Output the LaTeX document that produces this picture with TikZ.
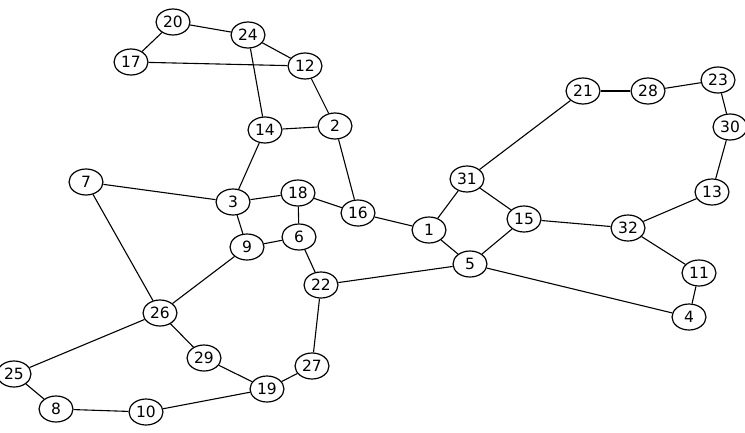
\documentclass[tikz,border=0pt]{standalone}
\usepackage{fontspec}
\setmainfont{DejaVu Sans}
\usetikzlibrary{shapes.geometric}
\begin{document}
\begin{tikzpicture}[x=1pt,y=-1pt,
  vtx/.style={draw,ellipse,line width=1.2pt,fill=white,inner sep=0pt,minimum width=34pt,minimum height=26pt,font=\fontsize{15.5}{15.5}\selectfont},
  edge/.style={line width=1.1pt}]
\useasboundingbox (0,0) rectangle (745,432);
\node[vtx] (n20) at (173,22) {20};
\node[vtx] (n24) at (248,35) {24};
\node[vtx] (n17) at (131,62) {17};
\node[vtx] (n12) at (305,66) {12};
\node[vtx] (n14) at (265,130) {14};
\node[vtx] (n2) at (335,126) {2};
\node[vtx] (n7) at (86,182) {7};
\node[vtx] (n3) at (233,202) {3};
\node[vtx] (n18) at (298,193) {18};
\node[vtx] (n16) at (358,213) {16};
\node[vtx] (n6) at (299,237) {6};
\node[vtx] (n9) at (247,247) {9};
\node[vtx] (n22) at (321,285) {22};
\node[vtx] (n1) at (429,230) {1};
\node[vtx] (n31) at (467,179) {31};
\node[vtx] (n15) at (524,219) {15};
\node[vtx] (n5) at (470,264) {5};
\node[vtx] (n21) at (583,91) {21};
\node[vtx] (n28) at (648,91) {28};
\node[vtx] (n23) at (718,80) {23};
\node[vtx] (n30) at (730,127) {30};
\node[vtx] (n13) at (712,192) {13};
\node[vtx] (n32) at (628,228) {32};
\node[vtx] (n11) at (699,273) {11};
\node[vtx] (n4) at (689,317) {4};
\node[vtx] (n26) at (160,313) {26};
\node[vtx] (n29) at (204,358) {29};
\node[vtx] (n27) at (312,366) {27};
\node[vtx] (n19) at (267,389) {19};
\node[vtx] (n25) at (14,374) {25};
\node[vtx] (n8) at (56,409) {8};
\node[vtx] (n10) at (146,412) {10};
\foreach \a/\b in {n20/n17,n20/n24,n24/n12,n17/n12,n24/n14,n12/n2,n14/n2,n14/n3,n2/n16,n7/n3,n7/n26,n3/n18,n3/n9,n18/n16,n18/n6,n9/n6,n16/n1,n6/n22,n9/n26,n1/n31,n1/n5,n31/n15,n31/n21,n15/n5,n15/n32,n21/n28,n28/n23,n23/n30,n30/n13,n13/n32,n32/n11,n11/n4,n5/n4,n5/n22,n22/n27,n27/n19,n26/n29,n29/n19,n26/n25,n25/n8,n8/n10,n10/n19}
  \draw[edge] (\a) -- (\b);
\end{tikzpicture}
\end{document}
